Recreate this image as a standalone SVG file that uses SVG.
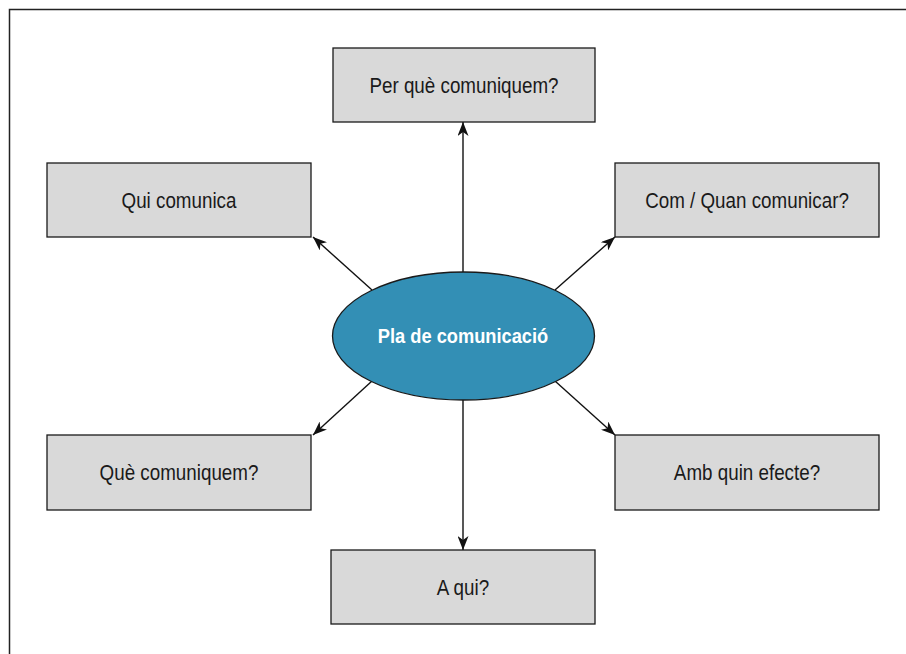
<svg xmlns="http://www.w3.org/2000/svg" width="906" height="654" viewBox="0 0 906 654">
<style>
.box{fill:#d9d9d9;stroke:#1a1a1a;stroke-width:1.3}
.lbl{font-family:"Liberation Sans",Arial,sans-serif;font-size:22px;fill:#1a1a1a;text-anchor:middle}
.ctr{font-family:"Liberation Sans",Arial,sans-serif;font-size:21px;font-weight:bold;fill:#fff;text-anchor:middle}
.conn{stroke:#111;stroke-width:1.4;fill:none;marker-end:url(#ah)}
</style>
<defs>
<marker id="ah" viewBox="0 0 14 11" refX="14" refY="5.5" markerWidth="14" markerHeight="11" markerUnits="userSpaceOnUse" orient="auto">
<path d="M0,0 L14,5.5 L0,11 L4,5.5 z" fill="#111"/>
</marker>
</defs>
<rect width="906" height="654" fill="#fff"/>
<path d="M9.5,654 V9.5 H906" fill="none" stroke="#222" stroke-width="1.5"/>
<g id="connectors">
<line class="conn" x1="463" y1="272" x2="463" y2="122"/>
<line class="conn" x1="372" y1="290" x2="313" y2="237"/>
<line class="conn" x1="555" y1="290" x2="615" y2="237"/>
<line class="conn" x1="372" y1="381" x2="313" y2="435"/>
<line class="conn" x1="555" y1="381" x2="615" y2="435"/>
<line class="conn" x1="463" y1="400" x2="463" y2="550"/>
</g>
<g id="center">
<ellipse cx="463.5" cy="336" rx="131" ry="64" fill="#338fb5" stroke="#1a1a1a" stroke-width="1.3"/>
<text class="ctr" transform="translate(463,343) scale(0.87,1)">Pla de comunicació</text>
</g>
<g id="perque">
<rect class="box" x="333" y="48" width="262" height="74"/>
<text class="lbl" transform="translate(464,93) scale(0.855,1)">Per què comuniquem?</text>
</g>
<g id="qui">
<rect class="box" x="47" y="163" width="264" height="74"/>
<text class="lbl" transform="translate(179,208) scale(0.855,1)">Qui comunica</text>
</g>
<g id="comquan">
<rect class="box" x="615" y="163" width="264" height="74"/>
<text class="lbl" transform="translate(747,208) scale(0.855,1)">Com / Quan comunicar?</text>
</g>
<g id="que">
<rect class="box" x="47" y="435" width="264" height="75"/>
<text class="lbl" transform="translate(179,480) scale(0.855,1)">Què comuniquem?</text>
</g>
<g id="efecte">
<rect class="box" x="615" y="435" width="264" height="75"/>
<text class="lbl" transform="translate(747,480) scale(0.855,1)">Amb quin efecte?</text>
</g>
<g id="aqui">
<rect class="box" x="331" y="550" width="264" height="74"/>
<text class="lbl" transform="translate(463,595) scale(0.855,1)">A qui?</text>
</g>
</svg>
